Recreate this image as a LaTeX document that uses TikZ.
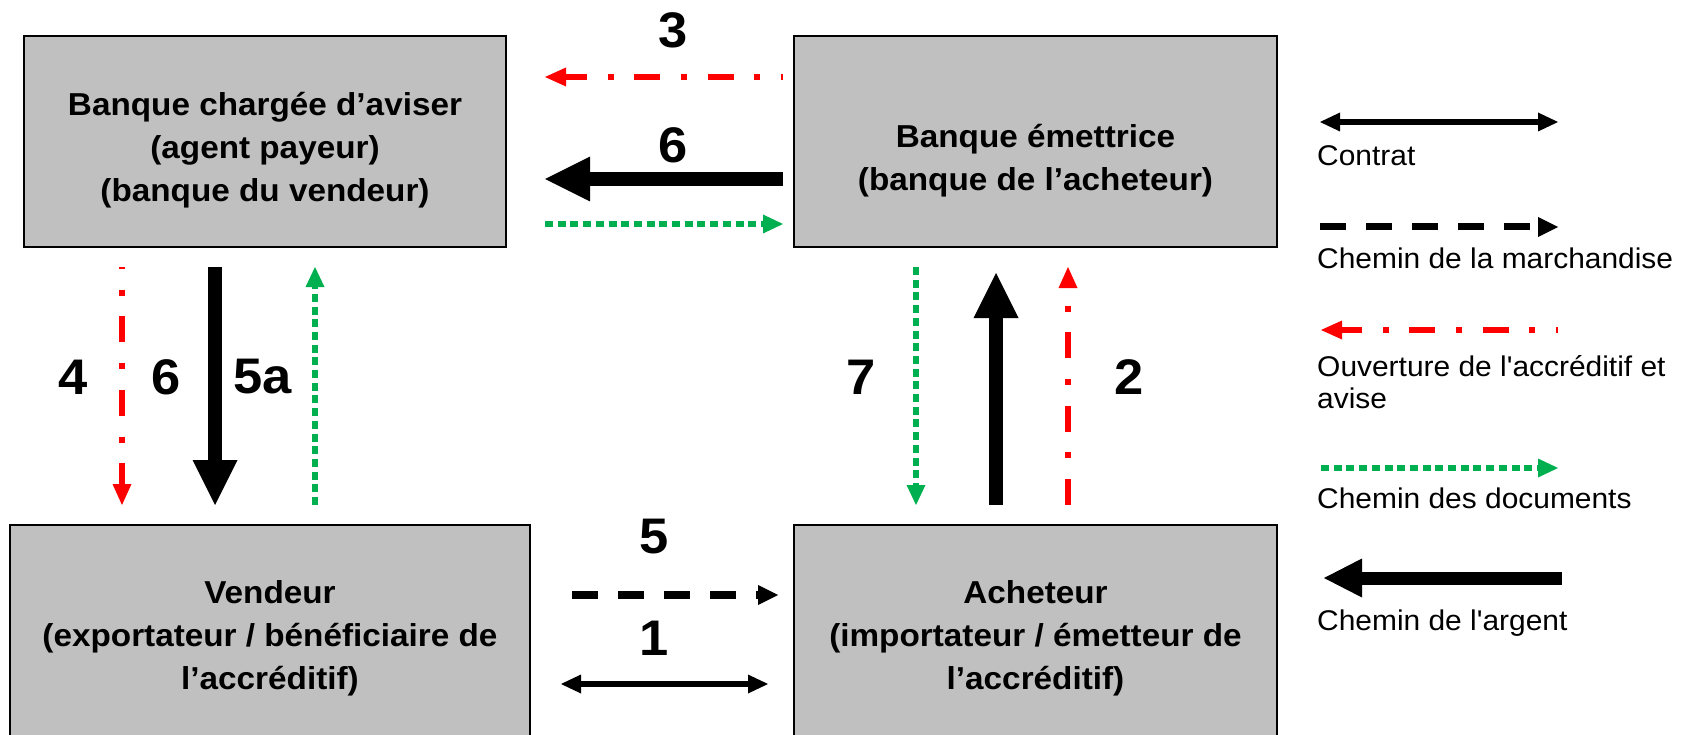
\documentclass[tikz,border=0pt]{standalone}
\usepackage{fontspec}
\newfontfamily\arial{Liberation Sans}[FakeStretch=1.05]
\usetikzlibrary{arrows.meta}
\definecolor{boxgray}{HTML}{C0C0C0}
\definecolor{docgreen}{HTML}{00B050}
\definecolor{openred}{HTML}{FF0000}
\begin{document}
\begin{tikzpicture}[x=1pt,y=-1pt,
  boxshape/.style={draw=black,line width=1.8pt,fill=boxgray,inner sep=0pt},
  boxtext/.style={align=center,inner sep=0pt,font=\arial\fontsize{31.7}{43}\selectfont\bfseries},
  numlab/.style={inner sep=0pt,font=\arial\fontsize{50}{54}\selectfont\bfseries},
  legtext/.style={inner sep=0pt,anchor=west,align=left,font=\arial\fontsize{28.5}{32}\selectfont},
  money/.style={draw=black,line width=14pt,-{Triangle[length=45pt,width=45pt,line width=0pt]}},
  moneyleg/.style={draw=black,line width=13pt,-{Triangle[length=38pt,width=39pt,line width=0pt]}},
  redend/.style={-{Triangle[length=21pt,width=19pt,line width=0pt]}},
  greentip/.style={-{Triangle[length=20pt,width=19pt,line width=0pt]}},
  redline/.style={draw=openred,line width=6pt,dash pattern=on 26pt off 20.7pt on 6pt off 20.7pt},
  redshift/.style={dash phase=24pt},
  greenline/.style={draw=docgreen,line width=6pt,dash pattern=on 8pt off 4.7pt},
  blackdash/.style={draw=black,line width=8pt,dash pattern=on 26pt off 20pt,-{Triangle[length=20pt,width=20pt,line width=0pt]}},
  contract/.style={draw=black,line width=6pt,{Triangle[length=20pt,width=19pt,line width=0pt]}-{Triangle[length=20pt,width=19pt,line width=0pt]}}
]
\useasboundingbox (0,0) rectangle (1688,735);

% boxes
\node[boxshape,minimum width=482pt,minimum height=211pt] (A) at (265,141.5) {};
\node[boxshape,minimum width=483pt,minimum height=211pt] (B) at (1035.5,141.5) {};
\node[boxshape,minimum width=520pt,minimum height=222pt] (C) at (270,636) {};
\node[boxshape,minimum width=483pt,minimum height=222pt] (D) at (1035.5,636) {};

\node[boxtext] (At) at (265,150) {Banque chargée d’aviser\\(agent payeur)\\(banque du vendeur)};
\node[boxtext] (Bt) at (1035.5,161) {Banque émettrice\\(banque de l’acheteur)};
\node[boxtext] (Ct) at (270,638) {Vendeur\\(exportateur / bénéficiaire de\\l’accréditif)};
\node[boxtext] (Dt) at (1035.5,638) {Acheteur\\(importateur / émetteur de\\l’accréditif)};

% numbers
\node[numlab] (n3) at (673,30) {3};
\node[numlab] (n6t) at (673,145) {6};
\node[numlab] (n4) at (73,377) {4};
\node[numlab] (n6l) at (166,377) {6};
\node[numlab] (n5a) at (263,377) {5a};
\node[numlab] (n7) at (861,377) {7};
\node[numlab] (n2) at (1129,377) {2};
\node[numlab] (n5) at (654,537) {5};
\node[numlab] (n1) at (654,638) {1};

% connector end points
\coordinate (r3l) at (545,77);   \coordinate (r3r) at (783,77);
\coordinate (m6r) at (783,179);  \coordinate (m6l) at (545,179);
\coordinate (g1l) at (545,224);  \coordinate (g1r) at (783,224);
\coordinate (r4b) at (122,505);  \coordinate (r4t) at (122,267);
\coordinate (m6t) at (215,267);  \coordinate (m6b) at (215,505);
\coordinate (g5b) at (315,505);  \coordinate (g5t) at (315,267);
\coordinate (g7t) at (916,267);  \coordinate (g7b) at (916,505);
\coordinate (mub) at (996,505);  \coordinate (mut) at (996,273);
\coordinate (r2b) at (1068,505); \coordinate (r2t) at (1068,267);
\coordinate (d5l) at (572,595);  \coordinate (d5r) at (778,595);
\coordinate (c1l) at (561,684);  \coordinate (c1r) at (768,684);

\draw[redline,redshift,redend] (r3r) -- (r3l);
\draw[money] (m6r) -- (m6l);
\draw[greenline,greentip] (g1l) -- (g1r);
\draw[redline,redshift,redend] (r4t) -- (r4b);
\draw[money] (m6t) -- (m6b);
\draw[greenline,greentip] (g5b) -- (g5t);
\draw[greenline,greentip] (g7t) -- (g7b);
\draw[money] (mub) -- (mut);
\draw[redline,redend] (r2b) -- (r2t);
\draw[blackdash] (d5l) -- (d5r);
\draw[contract] (c1l) -- (c1r);

% legend
\coordinate (L1l) at (1320,122); \coordinate (L1r) at (1558,122);
\coordinate (L2l) at (1320,227); \coordinate (L2r) at (1558,227);
\coordinate (L3l) at (1321,330); \coordinate (L3r) at (1558,330);
\coordinate (L4l) at (1321,468); \coordinate (L4r) at (1558,468);
\coordinate (L5r) at (1562,578); \coordinate (L5l) at (1324,578);
\draw[contract] (L1l) -- (L1r);
\draw[blackdash,line width=7pt] (L2l) -- (L2r);
\draw[redline,redshift,redend] (L3r) -- (L3l);
\draw[greenline,greentip] (L4l) -- (L4r);
\draw[moneyleg] (L5r) -- (L5l);

\node[legtext,anchor=base west] (T1) at (1317,166) {Contrat};
\node[legtext,anchor=base west] (T2) at (1317,269) {Chemin de la marchandise};
\node[legtext] (T3) at (1317,382) {Ouverture de l'accréditif et\\avise};
\node[legtext,anchor=base west] (T4) at (1317,508) {Chemin des documents};
\node[legtext,anchor=base west] (T5) at (1317,630) {Chemin de l'argent};
\end{tikzpicture}
\end{document}
